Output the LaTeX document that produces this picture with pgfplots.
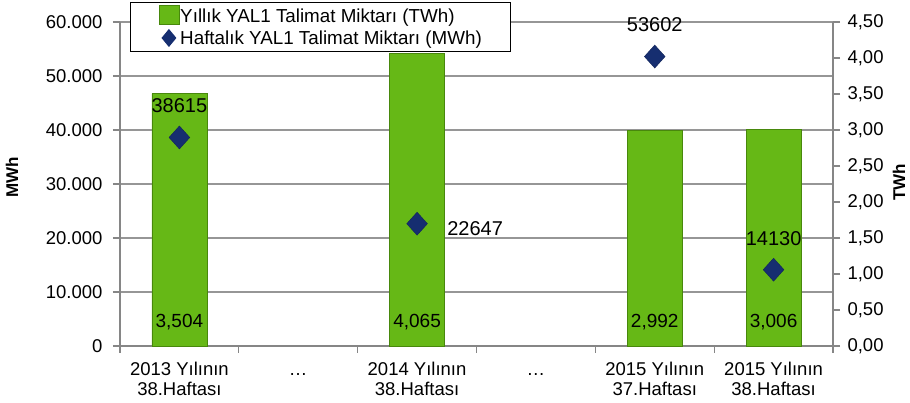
\documentclass[border=0pt]{standalone}
\usepackage{fontspec}
\setmainfont{Liberation Sans}
\usepackage{pgfplots}
\usepackage{pgfplotstable}
\pgfplotsset{compat=1.18}

\definecolor{barG}{RGB}{102,184,22}
\definecolor{barEdge}{RGB}{72,136,12}
\definecolor{dia}{RGB}{22,46,112}
\definecolor{axgray}{RGB}{134,134,134}
\definecolor{gridgray}{RGB}{150,150,150}

% weekly instruction amount (MWh, left axis) and label offsets
\pgfplotstableread{
x y dx dy
0 38615 0 32
2 22647 58 -5
4 53602 0 32
5 14130 0 31
}\weekly
% yearly instruction amount (TWh, right axis)
\pgfplotstableread{
x y
0 3.504
2 4.065
4 2.992
5 3.006
}\yearly

\pgfplotsset{
  base/.style={scale only axis, width=713pt, height=324pt,
    xmin=-0.5, xmax=5.5, clip=false,
    /pgf/number format/assume math mode=true,
    axis line style={axgray, line width=1.3pt},
    tick style={axgray, line width=1.2pt},
    tick align=outside, major tick length=7pt,
    tick label style={font=\fontsize{18.5}{19.5}\selectfont}}
}

\begin{document}
\begin{tikzpicture}
% background: left axis, grid, category axis
\begin{axis}[base, ymin=0, ymax=60000,
  axis y line*=left, axis x line*=bottom,
  ytick={0,10000,20000,30000,40000,50000,60000}, scaled y ticks=false,
  yticklabel style={xshift=-7pt, /pgf/number format/.cd, fixed, 1000 sep={.}},
  ymajorgrids, grid style={gridgray, line width=1.2pt},
  xtick={-0.5,0.5,...,5.5}, xticklabels={},
  extra x ticks={0,1,2,3,4,5},
  extra x tick labels={{2013 Yılının\\38.Haftası},{\vphantom{Y}…},{2014 Yılının\\38.Haftası},{\vphantom{Y}…},{2015 Yılının\\37.Haftası},{2015 Yılının\\38.Haftası}},
  extra x tick style={major tick length=0pt,
    xticklabel style={align=center, anchor=north, yshift=-13pt}},
  ylabel={MWh},
  ylabel style={at={(axis description cs:-0.1515,0.52)}, anchor=center, rotate=0,
    font=\fontsize{17}{17}\selectfont\bfseries},
]
\end{axis}
% bars on right axis
\begin{axis}[base, ymin=0, ymax=4.5,
  axis y line*=right, hide x axis,
  ytick={0,0.5,...,4.5},
  yticklabel style={xshift=4pt, /pgf/number format/.cd, fixed, fixed zerofill, precision=2, use comma},
  ylabel={TWh},
  ylabel style={at={(axis description cs:1.0926,0.506)}, anchor=center, rotate=0,
    font=\fontsize{17}{17}\selectfont\bfseries},
]
\addplot[ybar, bar width=55pt, bar shift=0pt, fill=barG, draw=barEdge, line width=0.8pt,
  point meta=y,
  nodes near coords={\pgfmathprintnumber[fixed, fixed zerofill, precision=3, use comma]{\pgfplotspointmeta}},
  visualization depends on={y \as \rawy},
  every node near coord/.append style={anchor=center, text=black,
    font=\fontsize{19}{19}\selectfont, yshift={24pt-\rawy*72pt}}]
  table[x=x, y=y]{\yearly};
\end{axis}
% diamonds on left scale + legend
\begin{axis}[base, ymin=0, ymax=60000, hide axis,
  legend style={at={(0.014,1.0617)}, anchor=north west, draw=black, line width=1.3pt,
    fill=white, font=\fontsize{18.8}{20}\selectfont, inner xsep=28pt, inner ysep=2.5pt,
    row sep=0pt, nodes={inner ysep=3.2pt, inner xsep=1pt}},
  legend cell align=left,
]
\addlegendimage{legend image code/.code={\fill[barG, draw=barEdge, line width=0.6pt] (0pt,-8pt) rectangle (20pt,11pt);}}
\addlegendentry{Yıllık YAL1 Talimat Miktarı (TWh)}
\addlegendimage{legend image code/.code={\draw[only marks, mark=diamond*, mark size=8pt, mark options={fill=dia, draw=dia, xscale=1.1}] plot coordinates {(10pt,0pt)};}}
\addlegendentry{Haftalık YAL1 Talimat Miktarı (MWh)}
\addplot[only marks, mark=diamond*, mark size=11.5pt, mark options={fill=dia, draw=dia!80!black, xscale=1.2},
  point meta=\thisrow{y},
  nodes near coords={\pgfmathprintnumber[fixed, precision=0, 1000 sep={}]{\pgfplotspointmeta}},
  visualization depends on={\thisrow{dx} \as \dx},
  visualization depends on={\thisrow{dy} \as \dy},
  every node near coord/.append style={anchor=center, text=black,
    font=\fontsize{20}{20}\selectfont, xshift=\dx pt, yshift=\dy pt},
  forget plot]
  table[x=x, y=y]{\weekly};
\end{axis}
\pgfresetboundingbox
\path[use as bounding box] (-120pt,-57pt) rectangle (790pt,346pt);
\end{tikzpicture}
\end{document}
